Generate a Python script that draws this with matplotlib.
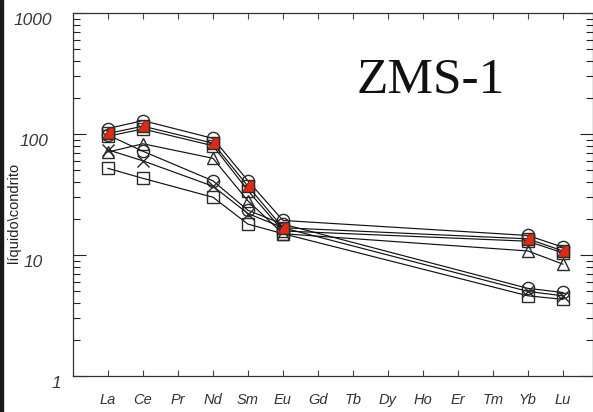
import matplotlib
matplotlib.use("Agg")
import matplotlib.pyplot as plt
import numpy as np
from matplotlib.patches import Rectangle
from matplotlib.path import Path
from matplotlib.transforms import blended_transform_factory

# REE order on the x axis
elements = ["La", "Ce", "Pr", "Nd", "Sm", "Eu", "Gd", "Tb", "Dy", "Ho", "Er", "Tm", "Yb", "Lu"]
measured = ["La", "Ce", "Nd", "Sm", "Eu", "Yb", "Lu"]

# chondrite-normalised values, one array per sample
circ_a = [111, 129, 92, 41, 19.3, 14.5, 11.6]
red_a = [101, 116, 84, 37, 16.8, 13.6, 10.8]
sq_a = [96, 110, 80, 34, 15.8, 13.0, 10.4]
tri_a = [71, 83, 63, 28, 15.0, 10.8, 8.4]
circ_b = [98, 72, 41, 23.4, 18.0, 5.3, 4.9]
x_b = [74, 60, 37, 22, 16.8, 5.0, 4.6]
sq_b = [52, 43, 30, 18, 15.0, 4.6, 4.3]

yticks = [1, 10, 100, 1000]
ytick_labels = ["1", "10", "100", "1000"]

xpos = [elements.index(e) + 1 for e in measured]

# half-filled square marker (lower right triangle)
half_sq = Path([(-1, -1), (1, -1), (1, 1), (0.1, 1), (-1, -1)],
               [Path.MOVETO, Path.LINETO, Path.LINETO, Path.LINETO, Path.CLOSEPOLY])

W, H = 593, 412
fig = plt.figure(figsize=(W / 100, H / 100), dpi=100)
ax = fig.add_axes([73 / W, 36 / H, 520 / W, 363 / H])

edge = "#2a2a2a"
lw = 0.85
ms = 8.8

series = [
    (circ_a, "o"), (sq_a, "s"), (tri_a, "^"),
    (circ_b, "o"), (x_b, "x"), (sq_b, "s"),
]
for vals, mk in series:
    ax.plot(xpos, vals, color="#111111", lw=lw, marker=mk, ms=ms if mk != "x" else 8,
            mfc="none", mec=edge, mew=1.0, zorder=3)

ax.plot(xpos, red_a, color="#111111", lw=lw, zorder=3)
ax.plot(xpos, red_a, ls="none", marker=half_sq, ms=ms, mfc="#dd2a14",
        mec="#7a1a10", mew=0.6, zorder=4)
ax.plot(xpos, red_a, ls="none", marker="s", ms=ms, mfc="none", mec=edge, mew=1.0, zorder=5)

ax.set_yscale("log")
ax.set_ylim(1, 1000)
ax.set_xlim(0, 14.86)

ax.set_xticks(range(1, len(elements) + 1))
ax.set_xticklabels(elements, fontstyle="italic", fontsize=10.5, color="#333333",
                   family="Liberation Sans")
ax.tick_params(axis="x", direction="in", length=4, width=0.8, color="#444444",
               top=True, pad=12)
ax.tick_params(axis="y", which="major", direction="in", length=9.5, width=0.8,
               color="#222222", right=True)
ax.tick_params(axis="y", which="minor", direction="in", length=5, width=0.8,
               color="#222222", right=True)
ax.set_yticks(yticks)
ax.set_yticklabels([])

trans = blended_transform_factory(fig.transFigure, ax.transData)
label_x = {"1": 56, "10": 33, "100": 34, "1000": 33}
for v, s in zip(yticks, ytick_labels):
    ax.text(label_x[s] / W, v, s, transform=trans, ha="center", va="top",
            fontstyle="italic", fontsize=12.5, color="#3a3a3a", family="Liberation Sans")

for sp in ax.spines.values():
    sp.set_linewidth(0.9)
    sp.set_color("#333333")

fig.text(14 / W, 1 - 213 / H, "líquido\\condrito", rotation=90, ha="center", va="center",
         fontsize=10.5, color="#222222", family="Liberation Sans")

ax.text(0.546, 0.78, "ZMS-1", transform=ax.transAxes, fontsize=37,
        family="Liberation Serif", color="#111111", ha="left", va="baseline")

# dark frame edge on the left
fig.add_artist(Rectangle((0, 0), 3 / W, 1, transform=fig.transFigure,
                         color="#1a1a1a", zorder=10))

fig.savefig("out.png", dpi=100)
